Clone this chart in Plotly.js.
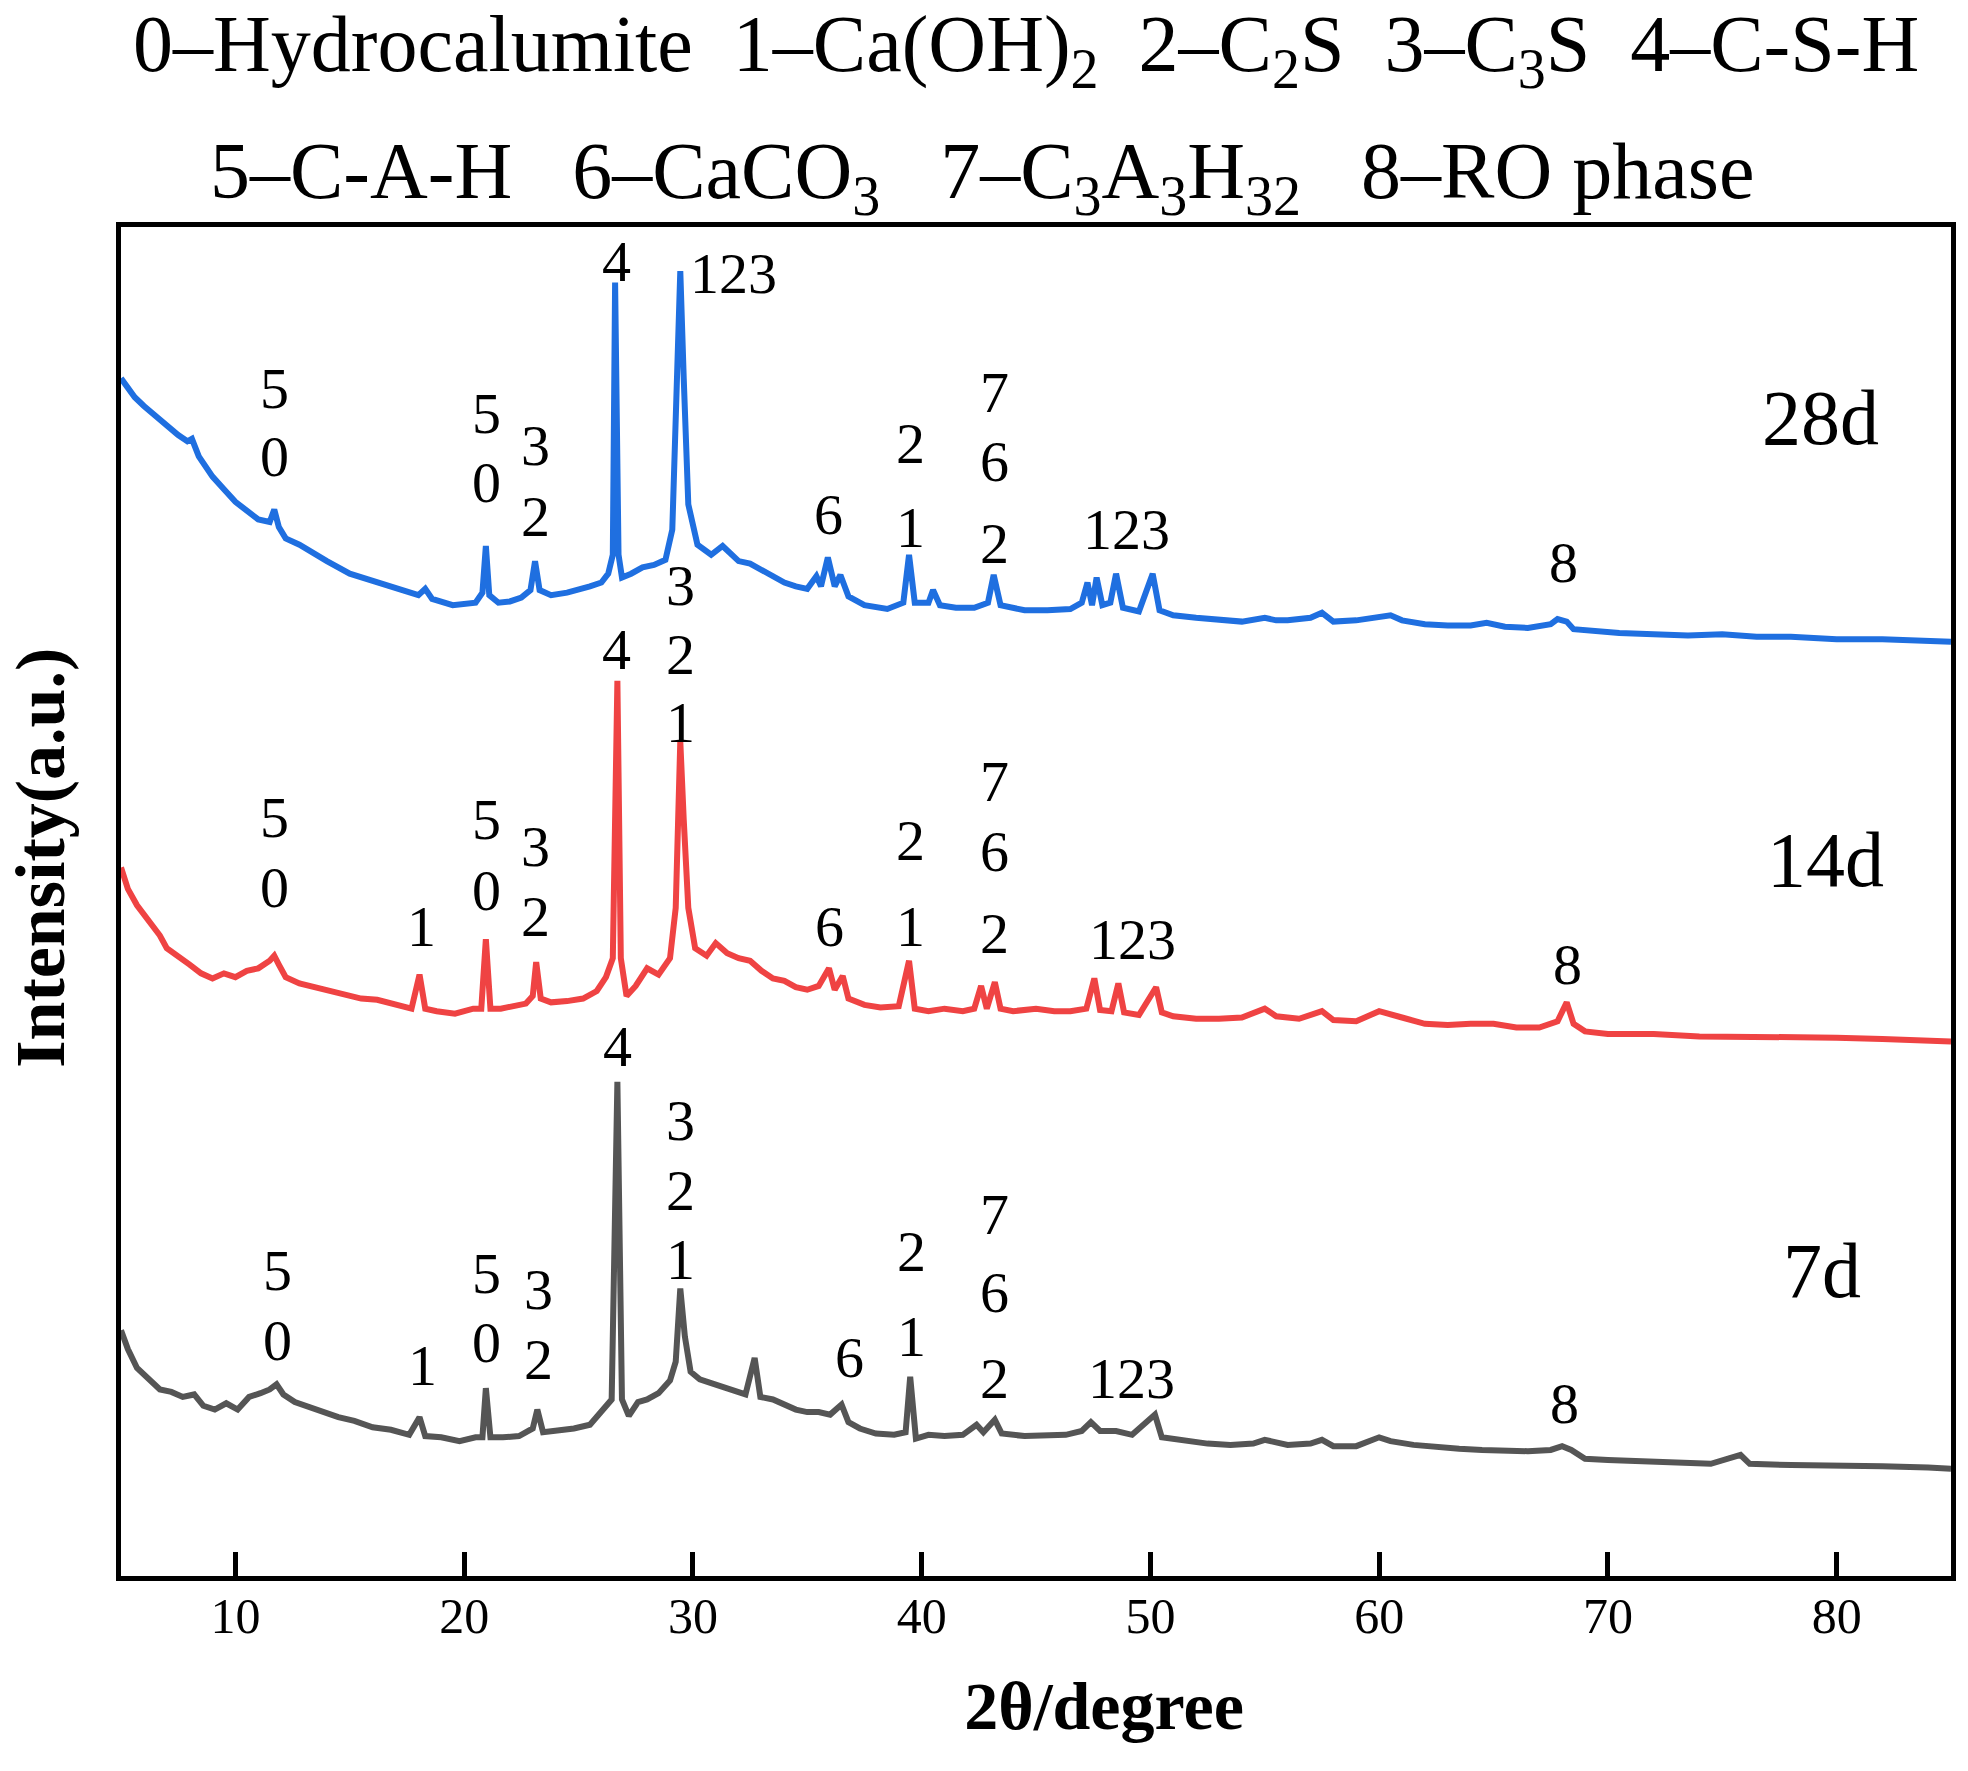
<!DOCTYPE html>
<html>
<head>
<meta charset="utf-8">
<script src="https://cdn.plot.ly/plotly-3.0.1.min.js"></script>
<style>
html,body{margin:0;padding:0;background:#fff;}
#chart{width:1968px;height:1771px;}
</style>
</head>
<body>
<div id="chart"></div>
<script>
// ---------- data (intensity in arbitrary units, offset patterns) ----------
const theta28 = [5.0,5.3,5.6,6.0,6.5,7.0,7.5,7.9,8.1,8.4,9.0,9.5,10.0,10.5,11.0,11.5,11.7,11.9,12.2,12.8,13.5,14.0,15.0,16.0,17.0,18.0,18.3,18.6,19.5,20.5,20.8,20.95,21.1,21.5,22.0,22.5,22.9,23.1,23.3,23.8,24.5,25.0,25.5,26.0,26.3,26.5,26.6,26.75,26.9,27.3,27.8,28.3,28.8,29.1,29.3,29.45,29.6,29.8,30.2,30.8,31.3,32.0,32.5,33.0,33.5,34.0,34.5,35.0,35.4,35.6,35.9,36.2,36.45,36.8,37.5,38.5,39.2,39.45,39.7,40.3,40.5,40.8,41.5,42.3,42.9,43.15,43.45,44.5,45.5,46.5,47.0,47.25,47.45,47.65,47.9,48.25,48.5,48.8,49.5,50.1,50.4,51.0,52.0,53.0,54.0,55.0,55.5,56.0,57.0,57.5,58.0,59.0,60.0,60.5,61.0,62.0,63.0,64.0,64.7,65.5,66.5,67.5,67.8,68.2,68.5,69.5,70.5,72.0,73.5,75.0,76.5,78.0,80.0,82.0,84.0,85.0];
const int28 = [950,942,935,928,920,912,905,900,902,888,872,862,852,845,838,836,846,832,823,818,810,805,795,789,783,778,783,775,770,772,780,817,778,772,773,776,782,805,782,778,780,782,785,788,795,810,1026,810,792,795,800,802,806,830,950,1035,950,850,818,810,817,805,803,798,792,788,785,783,793,785,808,785,794,777,770,767,772,810,772,772,782,770,768,768,772,794,770,766,766,767,772,788,770,792,770,772,795,768,765,795,766,762,760,759,757,760,758,758,760,764,757,758,760,762,758,755,754,754,756,753,752,755,759,757,751,749,748,747,746,747,745,745,743,743,742,741];

const theta14 = [5.0,5.3,5.7,6.2,6.7,7.0,7.5,8.0,8.5,9.0,9.5,10.0,10.5,11.0,11.5,11.7,11.9,12.2,12.8,13.3,14.0,14.8,15.5,16.2,17.0,17.7,18.05,18.3,18.8,19.6,20.4,20.75,20.95,21.15,21.6,22.2,22.7,23.0,23.15,23.35,23.8,24.5,25.2,25.8,26.2,26.5,26.7,26.85,27.1,27.5,28.0,28.5,29.0,29.25,29.45,29.6,29.8,30.1,30.6,31.0,31.5,32.0,32.5,33.0,33.5,34.0,34.5,35.0,35.5,35.95,36.2,36.55,36.8,37.5,38.2,39.0,39.45,39.7,40.3,41.0,41.8,42.3,42.6,42.85,43.2,43.45,44.0,45.0,45.8,46.5,47.2,47.55,47.8,48.3,48.6,48.85,49.5,50.25,50.5,51.0,52.0,53.0,54.0,55.0,55.5,56.5,57.5,58.0,59.0,60.0,60.5,61.0,62.0,63.0,64.0,65.0,66.0,67.0,67.8,68.2,68.5,69.0,70.0,72.0,74.0,76.0,78.0,80.0,82.0,84.0,85.0];
const int14 = [562,545,532,520,508,498,492,485,478,474,478,475,480,482,488,492,485,475,470,468,464,462,458,457,453,450,477,450,448,446,450,450,505,450,450,452,454,460,487,458,455,456,458,464,475,490,710,490,460,468,482,477,490,530,662,600,530,498,492,502,494,490,488,480,474,472,467,465,468,482,465,476,458,453,451,452,488,450,448,450,448,450,468,450,471,450,448,450,448,448,450,474,449,448,470,447,445,467,447,444,442,442,443,450,444,442,448,441,440,448,446,443,438,437,438,438,435,435,440,455,438,432,430,430,428,428,427,427,426,425,424];

const theta7 = [5.0,5.3,5.7,6.2,6.7,7.2,7.7,8.2,8.6,9.1,9.6,10.1,10.6,11.1,11.5,11.8,12.1,12.6,13.2,13.8,14.5,15.2,16.0,16.8,17.6,18.05,18.3,19.0,19.8,20.5,20.8,20.95,21.15,21.7,22.4,23.0,23.2,23.45,24.0,24.8,25.5,26.1,26.45,26.7,26.9,27.2,27.6,28.0,28.5,29.0,29.25,29.45,29.65,29.9,30.3,30.8,31.3,31.8,32.3,32.7,32.95,33.5,34.0,34.5,35.0,35.5,36.0,36.5,36.8,37.3,38.0,38.8,39.3,39.5,39.75,40.3,41.0,41.8,42.4,42.7,43.2,43.5,44.5,45.5,46.3,47.0,47.4,47.8,48.5,49.2,50.2,50.5,51.5,52.5,53.5,54.5,55.0,56.0,57.0,57.5,58.0,59.0,60.0,60.5,61.5,62.5,63.5,64.5,65.5,66.5,67.5,68.0,68.4,69.0,70.0,71.5,73.0,74.5,75.8,76.2,78.0,80.0,82.0,84.0,85.0];
const int7 = [195,180,165,157,148,146,142,144,135,132,137,132,142,145,148,152,144,138,134,130,126,123,118,116,112,126,111,110,107,110,110,149,110,110,111,117,132,114,115,117,120,132,140,392,140,127,138,140,145,155,170,228,190,162,156,153,150,148,144,173,142,140,136,132,130,130,128,136,122,117,113,112,114,158,109,112,111,112,120,114,124,113,111,111,112,115,122,115,115,112,128,110,107,105,104,105,108,104,105,108,103,103,110,107,104,102,101,100,99,99,100,103,100,93,92,91,90,89,96,89,88,88,87,86,85];

const xTickVals = [10,20,30,40,50,60,70,80];
const xTickText = ["10","20","30","40","50","60","70","80"];

// peak phase labels: [text, 2theta, intensity]
const labels28 = [["5",11.73,942],["0",11.73,888],["5",20.99,922],["0",20.99,867],["3",23.14,897],["2",23.14,840],["4",26.66,1043],["123",31.79,1033],["6",35.93,842],["2",39.51,898],["1",39.51,832],["7",43.2,939],["6",43.2,884],["2",43.2,819],["123",48.94,830],["8",68.07,804]];
const labels14 = [["5",11.73,602],["0",11.73,546],["1",18.12,515],["5",20.99,600],["0",20.99,544],["3",23.14,579],["2",23.14,523],["4",26.66,735],["3",29.48,786],["2",29.48,731],["1",29.48,677],["6",35.98,515],["2",39.51,583],["1",39.51,515],["7",43.2,630],["6",43.2,575],["2",43.2,510],["123",49.21,505],["8",68.23,485]];
const labels7 = [["5",11.84,242],["0",11.84,187],["1",18.18,167],["5",20.99,240],["0",20.99,185],["3",23.25,227],["2",23.25,172],["4",26.72,420],["3",29.48,361],["2",29.48,306],["1",29.48,251],["6",36.86,173],["2",39.56,257],["1",39.56,190],["7",43.2,287],["6",43.2,225],["2",43.2,157],["123",49.16,157],["8",68.12,137]];
const sampleNames = ["28d","14d","7d"];
const sampleLabelPos = [[79.31,919],[79.53,568],[79.37,242]];

const legendLine1 = "0–Hydrocalumite\u00a0\u00a01–Ca(OH)<sub>2</sub>\u00a0\u00a02–C<sub>2</sub>S\u00a0\u00a03–C<sub>3</sub>S\u00a0\u00a04–C-S-H";
const legendLine2 = "5–C-A-H\u00a0\u00a0\u00a06–CaCO<sub>3</sub>\u00a0\u00a0\u00a07–C<sub>3</sub>A<sub>3</sub>H<sub>32</sub>\u00a0\u00a0\u00a08–RO phase";

// ---------- drawing ----------
const FONT = "Liberation Serif, Times New Roman, serif";
const colors = ["#1f6fe0", "#ef4343", "#555555"];

const traces = [
  {x: theta28, y: int28, name: "28d", mode: "lines", line: {color: colors[0], width: 6}},
  {x: theta14, y: int14, name: "14d", mode: "lines", line: {color: colors[1], width: 6}},
  {x: theta7,  y: int7,  name: "7d",  mode: "lines", line: {color: colors[2], width: 6}}
];

const annotations = [];
[labels28, labels14, labels7].forEach(list => {
  list.forEach(l => annotations.push({
    x: l[1], y: l[2], xref: "x", yref: "y", text: l[0], showarrow: false,
    xanchor: "center", yanchor: "middle", font: {family: FONT, size: 58, color: "#000"}
  }));
});
sampleNames.forEach((s, i) => annotations.push({
  x: sampleLabelPos[i][0], y: sampleLabelPos[i][1], xref: "x", yref: "y", text: s,
  showarrow: false, xanchor: "center", yanchor: "middle",
  font: {family: FONT, size: 78, color: "#000"}
}));
annotations.push({
  x: 0.4945, y: 1.131, xref: "paper", yref: "paper", text: legendLine1, showarrow: false,
  xanchor: "center", yanchor: "middle", font: {family: FONT, size: 80, color: "#000"}
});
annotations.push({
  x: 0.4705, y: 1.037, xref: "paper", yref: "paper", text: legendLine2, showarrow: false,
  xanchor: "center", yanchor: "middle", font: {family: FONT, size: 80, color: "#000"}
});

const NB = "\u00a0";
const layout = {
  width: 1968, height: 1771,
  margin: {l: 121, r: 17, t: 227, b: 195, pad: 0},
  paper_bgcolor: "#fff", plot_bgcolor: "#fff",
  showlegend: false,
  xaxis: {
    range: [5, 85], tickvals: xTickVals, ticktext: xTickText,
    ticks: "inside", ticklen: 24, tickwidth: 5, tickcolor: "#000",
    showline: true, linewidth: 5, linecolor: "#000", mirror: true,
    showgrid: false, zeroline: false, ticklabelstandoff: -8,
    tickfont: {family: FONT, size: 50, color: "#000"},
    title: {text: "<b>" + NB.repeat(8) + "2θ/degree</b>", font: {family: FONT, size: 68, color: "#000"}, standoff: 40}
  },
  yaxis: {
    range: [0, 1070], showticklabels: false, ticks: "",
    showline: true, linewidth: 5, linecolor: "#000", mirror: true,
    showgrid: false, zeroline: false,
    title: {text: "<b>" + NB.repeat(5) + "Intensity(a.u.)</b>", font: {family: FONT, size: 70, color: "#000"}, standoff: 30}
  },
  annotations: annotations
};

Plotly.newPlot("chart", traces, layout, {staticPlot: true, displayModeBar: false});
</script>
</body>
</html>
